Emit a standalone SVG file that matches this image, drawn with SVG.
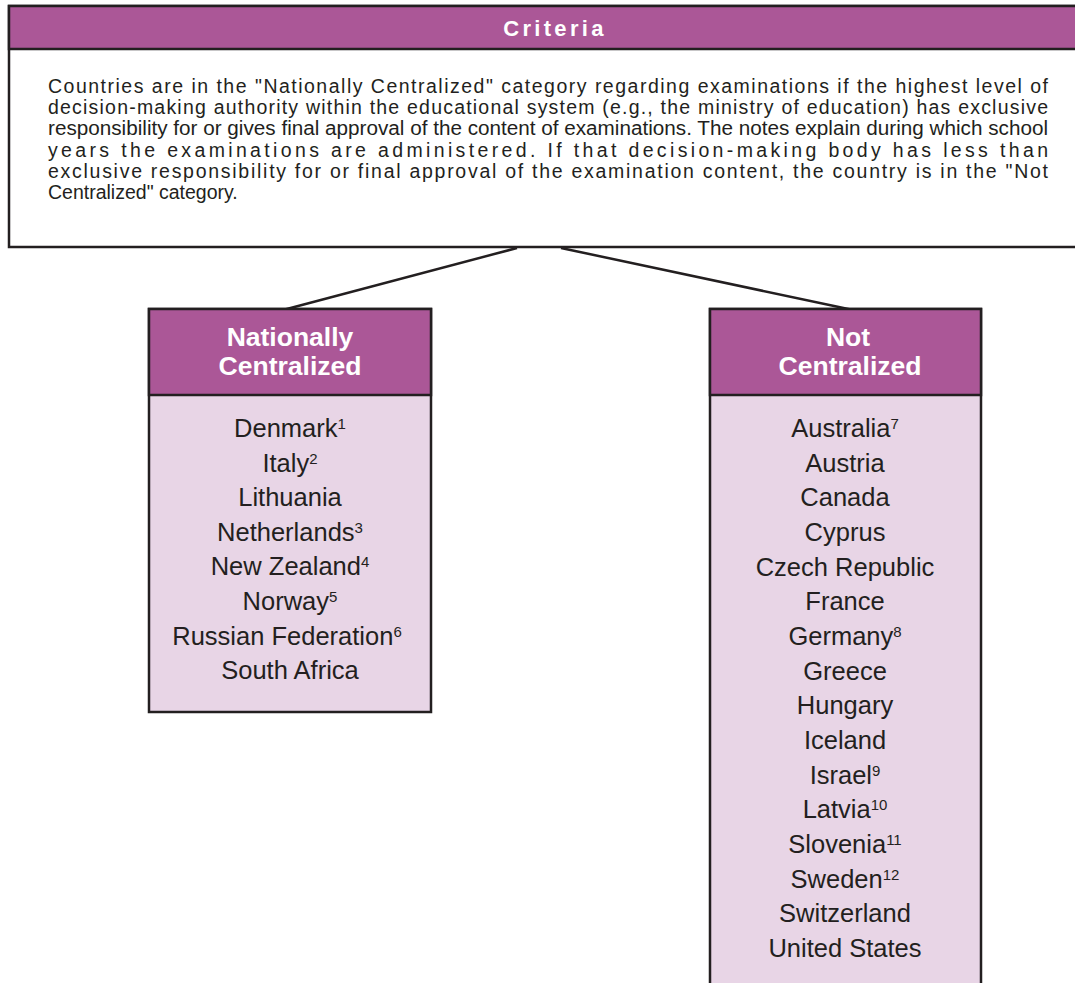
<svg xmlns="http://www.w3.org/2000/svg" width="1075" height="983" viewBox="0 0 1075 983">
<style>
.hdr{fill:#AB5797;stroke:#231F20;stroke-width:2.5}
.box{stroke:#231F20;stroke-width:2.5}
.crit{font-family:"Liberation Sans",Arial,sans-serif;font-size:19.5px;fill:#231F20}
.title{font-family:"Liberation Sans",Arial,sans-serif;font-weight:bold;fill:#FFFFFF;text-anchor:middle}
.item{font-family:"Liberation Sans",Arial,sans-serif;font-size:25.5px;fill:#231F20;text-anchor:middle}
.sup{font-size:15px}
.conn{stroke:#231F20;stroke-width:2.5;fill:none}
</style>
<g id="connectors">
<line class="conn" x1="517" y1="248" x2="283" y2="310"/>
<line class="conn" x1="561" y1="248" x2="853" y2="310"/>
</g>
<g id="criteria">
<rect class="box" x="9" y="6" width="1075" height="241" fill="#FFFFFF"/>
<rect class="hdr" x="9" y="6" width="1075" height="43"/>
<text class="title" x="555" y="36" font-size="22" letter-spacing="3.3">Criteria</text>
<text class="crit" x="48" y="93" textLength="1000" lengthAdjust="spacing">Countries are in the "Nationally Centralized" category regarding examinations if the highest level of</text>
<text class="crit" x="48" y="114.2" textLength="1000" lengthAdjust="spacing">decision-making authority within the educational system (e.g., the ministry of education) has exclusive</text>
<text class="crit" x="48" y="135.4" textLength="1000" lengthAdjust="spacingAndGlyphs">responsibility for or gives final approval of the content of examinations. The notes explain during which school</text>
<text class="crit" x="48" y="156.6" textLength="1000" lengthAdjust="spacing">years the examinations are administered. If that decision-making body has less than</text>
<text class="crit" x="48" y="177.8" textLength="1000" lengthAdjust="spacing">exclusive responsibility for or final approval of the examination content, the country is in the "Not</text>
<text class="crit" x="48" y="199">Centralized" category.</text>
</g>
<g id="nationally-centralized">
<rect class="box" x="149" y="309" width="282" height="403" fill="#E8D5E6"/>
<rect class="hdr" x="149" y="309" width="282" height="86"/>
<text class="title" x="290" y="346" font-size="26.5">Nationally</text>
<text class="title" x="290" y="375" font-size="26.5">Centralized</text>
<text class="item" x="290" y="437">Denmark<tspan class="sup" dy="-8">1</tspan></text>
<text class="item" x="290" y="471.6">Italy<tspan class="sup" dy="-8">2</tspan></text>
<text class="item" x="290" y="506.2">Lithuania</text>
<text class="item" x="290" y="540.8">Netherlands<tspan class="sup" dy="-8">3</tspan></text>
<text class="item" x="290" y="575.4">New Zealand<tspan class="sup" dy="-8">4</tspan></text>
<text class="item" x="290" y="610">Norway<tspan class="sup" dy="-8">5</tspan></text>
<text class="item" x="287" y="644.6">Russian Federation<tspan class="sup" dy="-8">6</tspan></text>
<text class="item" x="290" y="679.2">South Africa</text>
</g>
<g id="not-centralized">
<rect class="box" x="710" y="309" width="271" height="690" fill="#E8D5E6"/>
<rect class="hdr" x="710" y="309" width="271" height="86"/>
<text class="title" x="848" y="346" font-size="26.5">Not</text>
<text class="title" x="850" y="375" font-size="26.5">Centralized</text>
<text class="item" x="845" y="437">Australia<tspan class="sup" dy="-8">7</tspan></text>
<text class="item" x="845" y="471.7">Austria</text>
<text class="item" x="845" y="506.3">Canada</text>
<text class="item" x="845" y="541">Cyprus</text>
<text class="item" x="845" y="575.7">Czech Republic</text>
<text class="item" x="845" y="610.3">France</text>
<text class="item" x="845" y="645">Germany<tspan class="sup" dy="-8">8</tspan></text>
<text class="item" x="845" y="679.7">Greece</text>
<text class="item" x="845" y="714.3">Hungary</text>
<text class="item" x="845" y="749">Iceland</text>
<text class="item" x="845" y="783.7">Israel<tspan class="sup" dy="-8">9</tspan></text>
<text class="item" x="845" y="818.3">Latvia<tspan class="sup" dy="-8">10</tspan></text>
<text class="item" x="845" y="853">Slovenia<tspan class="sup" dy="-8">11</tspan></text>
<text class="item" x="845" y="887.7">Sweden<tspan class="sup" dy="-8">12</tspan></text>
<text class="item" x="845" y="922.3">Switzerland</text>
<text class="item" x="845" y="957">United States</text>
</g>
</svg>
